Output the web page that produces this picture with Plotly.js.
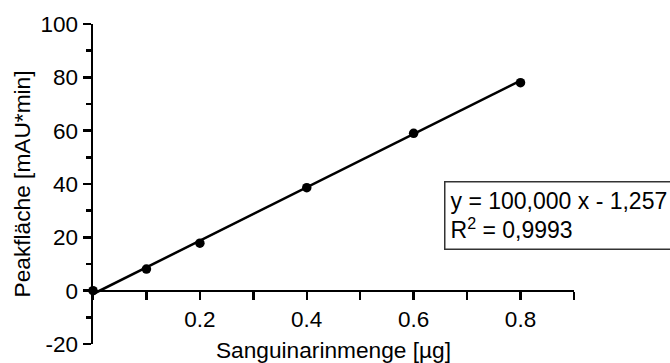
<!DOCTYPE html>
<html>
<head>
<meta charset="utf-8">
<script src="https://cdn.plot.ly/plotly-3.0.1.min.js"></script>
<style>html,body{margin:0;padding:0;background:#fff;}#chart{width:670px;height:363px;}</style>
</head>
<body>
<div id="chart"></div>
<script>
// Measured data points
const amountUg = [0, 0.1, 0.2, 0.4, 0.6, 0.8];
const peakArea = [0, 8.1, 17.8, 38.6, 59.0, 78.0];

// Regression line endpoints (y = 100,000 x - 1,257)
const fitX = [0, 0.8];
const fitY = [-1.257, 78.743];

// Tick values / labels
const xTickVals = [0.2, 0.4, 0.6, 0.8];
const xTickText = ['0.2', '0.4', '0.6', '0.8'];
const yTickVals = [-20, 0, 20, 40, 60, 80, 100];
const yTickText = ['-20', '0', '20', '40', '60', '80', '100'];

const eqText = 'y = 100,000 x - 1,257<br>R<sup>2</sup> = 0,9993';

const FONT = 'Liberation Sans, Arial, sans-serif';

const traces = [
  {x: fitX, y: fitY, type: 'scatter', mode: 'lines',
   line: {color: '#000', width: 2.5}, cliponaxis: false, hoverinfo: 'skip'},
  {x: amountUg, y: peakArea, type: 'scatter', mode: 'markers',
   marker: {color: '#000', size: 9.5}, cliponaxis: false}
];

const layout = {
  width: 670, height: 363,
  margin: {l: 93, r: 96, t: 23.5, b: 18.5},
  paper_bgcolor: '#fff', plot_bgcolor: '#fff',
  showlegend: false,
  font: {family: FONT, color: '#000', size: 22.5},
  xaxis: {
    range: [0, 0.9001], anchor: 'free', position: 20/120,
    showgrid: false, zeroline: false,
    showline: true, linecolor: '#000', linewidth: 2.5,
    tickmode: 'array', tickvals: xTickVals, ticktext: xTickText,
    ticks: 'outside', ticklen: 8, tickwidth: 2.5, tickcolor: '#000',
    minor: {tick0: 0, dtick: 0.1, ticks: 'outside', ticklen: 8, tickwidth: 2.5, tickcolor: '#000'},
    tickfont: {family: FONT, size: 22.5, color: '#000'},
    title: {text: 'Sanguinarinmenge [µg]', font: {family: FONT, size: 22.7, color: '#000'}, standoff: 13}
  },
  yaxis: {
    range: [-20, 100],
    showgrid: false, zeroline: false,
    showline: true, linecolor: '#000', linewidth: 2.5,
    tickmode: 'array', tickvals: yTickVals, ticktext: yTickText,
    ticks: 'outside', ticklen: 8, tickwidth: 2.5, tickcolor: '#000',
    minor: {tick0: 0, dtick: 10, ticks: 'outside', ticklen: 5, tickwidth: 2.5, tickcolor: '#000'},
    tickfont: {family: FONT, size: 22.5, color: '#000'},
    title: {text: 'Peakfläche [mAU*min]', font: {family: FONT, size: 22.7, color: '#000'}, standoff: 4}
  },
  annotations: [{
    xref: 'paper', yref: 'paper', x: 0.7297, y: 0.509,
    xanchor: 'left', yanchor: 'top', align: 'left',
    text: eqText, showarrow: false,
    font: {family: FONT, size: 23, color: '#000'},
    bgcolor: '#fff', bordercolor: '#333', borderwidth: 1.5, borderpad: 5
  }]
};

Plotly.newPlot('chart', traces, layout, {displayModeBar: false, staticPlot: true});
</script>
</body>
</html>
